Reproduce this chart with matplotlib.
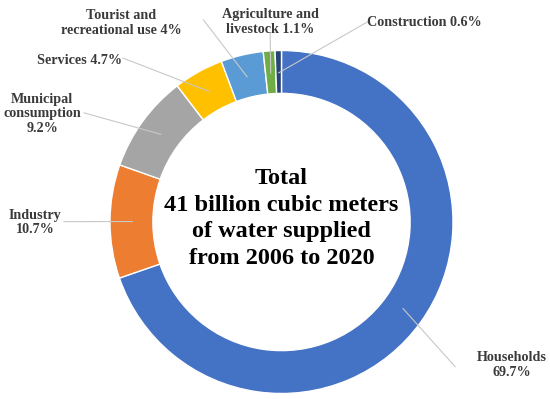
import numpy as np
import matplotlib
matplotlib.use("Agg")
import matplotlib.pyplot as plt

# Share of water supplied by use, 2006-2020 (clockwise from top)
categories = ["Households", "Industry", "Municipal consumption", "Services",
              "Tourist and recreational use", "Agriculture and livestock", "Construction"]
shares = [69.7, 10.7, 9.2, 4.7, 4.0, 1.1, 0.6]
labels = ["Households\n69.7%", "Industry\n10.7%", "Municipal\nconsumption\n9.2%",
          "Services 4.7%", "Tourist and\nrecreational use 4%",
          "Agriculture and\nlivestock 1.1%", "Construction 0.6%"]
colors = ["#4472C4", "#ED7D31", "#A5A5A5", "#FFC000", "#5B9BD5", "#70AD47", "#264478"]
center_text = "Total\n41 billion cubic meters\nof water supplied\nfrom 2006 to 2020"

# label placement (data units, ring radius = 1)
label_pos = [(1.345, -0.834), (-1.435, -0.003), (-1.395, 0.630), (-1.180, 0.944),
             (-0.935, 1.160), (-0.066, 1.166), (0.836, 1.166)]
line_start = [(1.012, -0.843), (-1.268, 0.002), (-1.150, 0.636), (-0.925, 0.956),
              (-0.455, 1.178), (-0.066, 1.102), (0.500, 1.166)]

fig = plt.figure(figsize=(5.5, 3.99), dpi=100)
ax = fig.add_axes([0, 0, 1, 1])
ax.axis("off")

wedges, _ = ax.pie(shares, colors=colors, startangle=90, counterclock=False,
                   radius=1, wedgeprops=dict(width=0.25, edgecolor="white", linewidth=1))
ax.set_xlim(-281.5 / 171.5, 268.5 / 171.5)
ax.set_ylim(-177 / 171.5, 222 / 171.5)
ax.set_aspect("auto")

font = dict(family="Liberation Serif", weight="bold", color="#3A3A3A")

for w, lab, (tx, ty), (sx, sy) in zip(wedges, labels, label_pos, line_start):
    ang = np.deg2rad((w.theta1 + w.theta2) / 2)
    mx, my = 0.87 * np.cos(ang), 0.87 * np.sin(ang)
    ax.plot([sx, mx], [sy, my], color="#C8C8C8", lw=0.8, zorder=3)
    ax.text(tx, ty, lab, ha="center", va="center", fontsize=10.2,
            linespacing=1.12, **font)

ax.text(0, 0.02, center_text, ha="center", va="center", fontsize=17.5,
        linespacing=1.36, family="Liberation Serif", weight="bold", color="black")

fig.savefig("out.png", dpi=100)
